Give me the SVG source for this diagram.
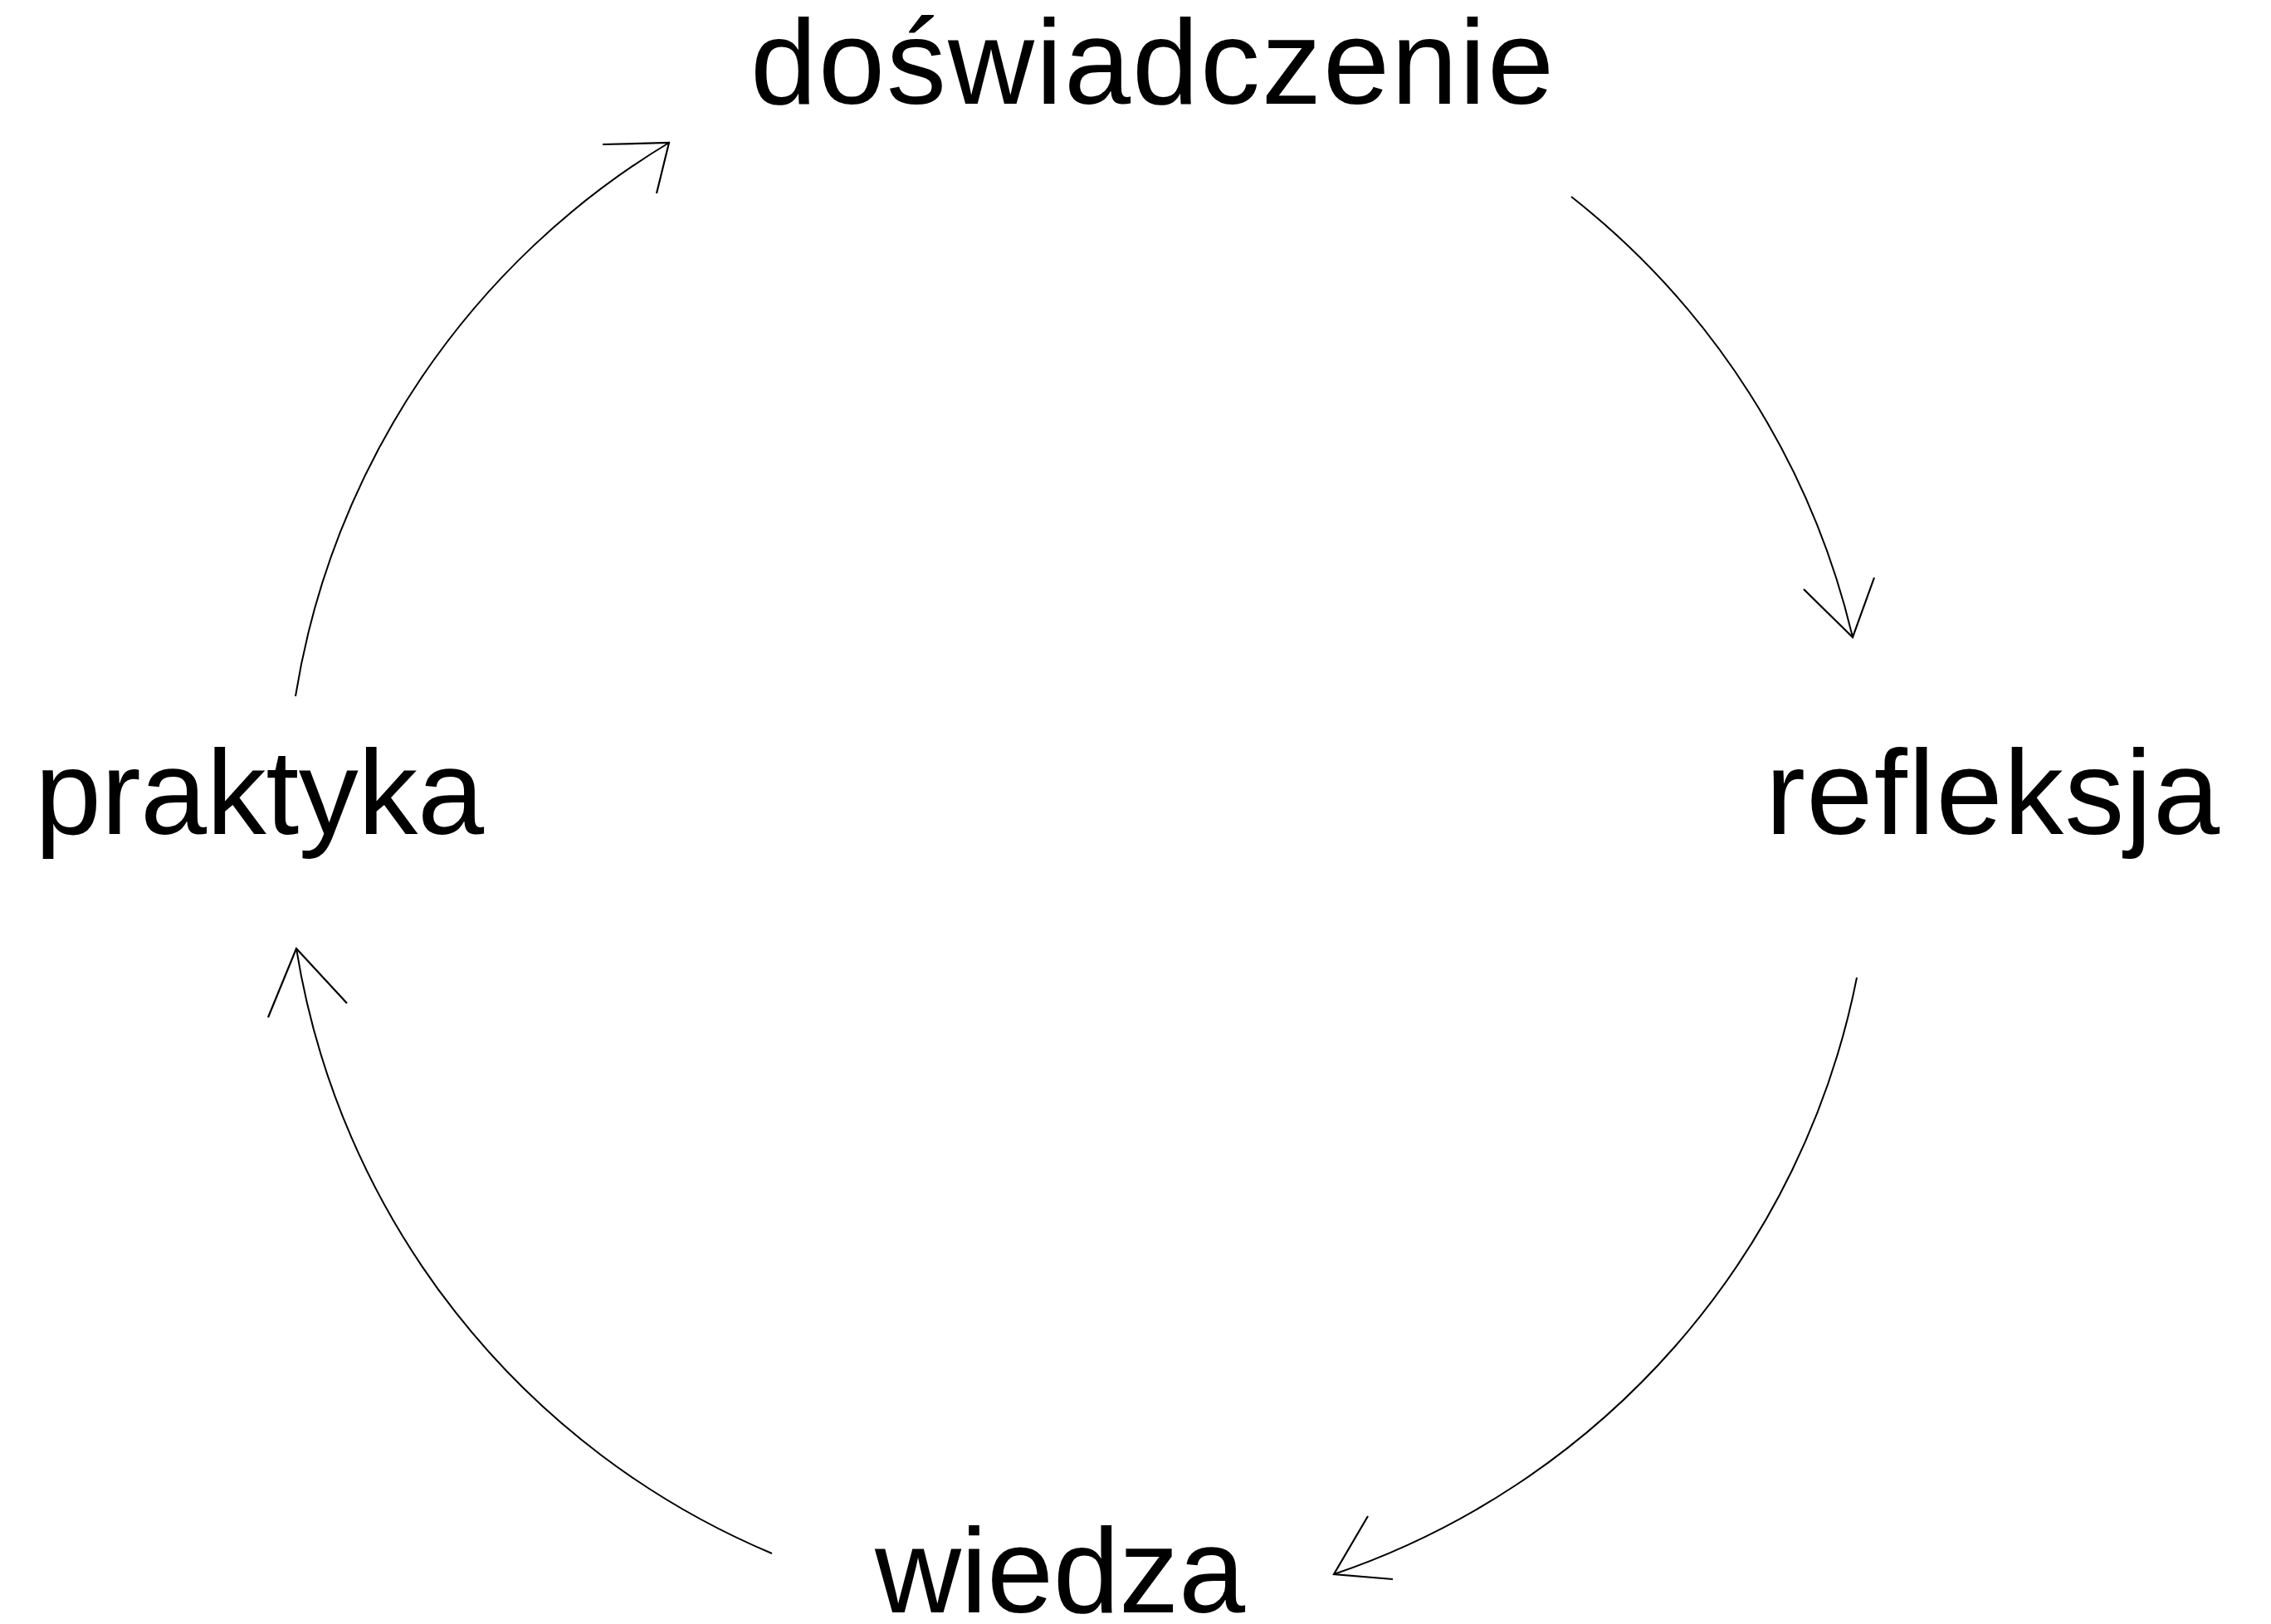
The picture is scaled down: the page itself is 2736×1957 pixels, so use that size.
<svg xmlns="http://www.w3.org/2000/svg" width="2736" height="1957" viewBox="0 0 2736 1957">
<style>
.lbl{font-family:"Liberation Sans",Arial,sans-serif;font-size:144px;fill:#000}
.arc{fill:none;stroke:#000;stroke-width:2}
.head{fill:none;stroke:#000;stroke-width:2.2;stroke-linejoin:miter}
</style>
<rect width="2736" height="1957" fill="#fff"/>
<g id="connectors">
<path class="arc" d="M356,839 A955,955 0 0 1 806,172"/>
<polyline class="head" points="726,174 806,172 791,233"/>
<path class="arc" d="M1893,237 A955,955 0 0 1 2232,768"/>
<polyline class="head" points="2173,710 2232,768 2258,696"/>
<path class="arc" d="M2237,1178 A955,955 0 0 1 1607,1897"/>
<polyline class="head" points="1648,1827 1607,1897 1678,1903"/>
<path class="arc" d="M930,1872 A955,955 0 0 1 357,1143"/>
<polyline class="head" points="323,1226 357,1143 418,1209"/>
</g>
<g id="node-doswiadczenie"><text class="lbl" x="904" y="125" textLength="968" lengthAdjust="spacing">doświadczenie</text></g>
<g id="node-refleksja"><text class="lbl" x="2127" y="1005" textLength="547" lengthAdjust="spacing">refleksja</text></g>
<g id="node-wiedza"><text class="lbl" x="1054" y="1943" textLength="446" lengthAdjust="spacing">wiedza</text></g>
<g id="node-praktyka"><text class="lbl" x="42" y="1005" textLength="541" lengthAdjust="spacing">praktyka</text></g>
</svg>
